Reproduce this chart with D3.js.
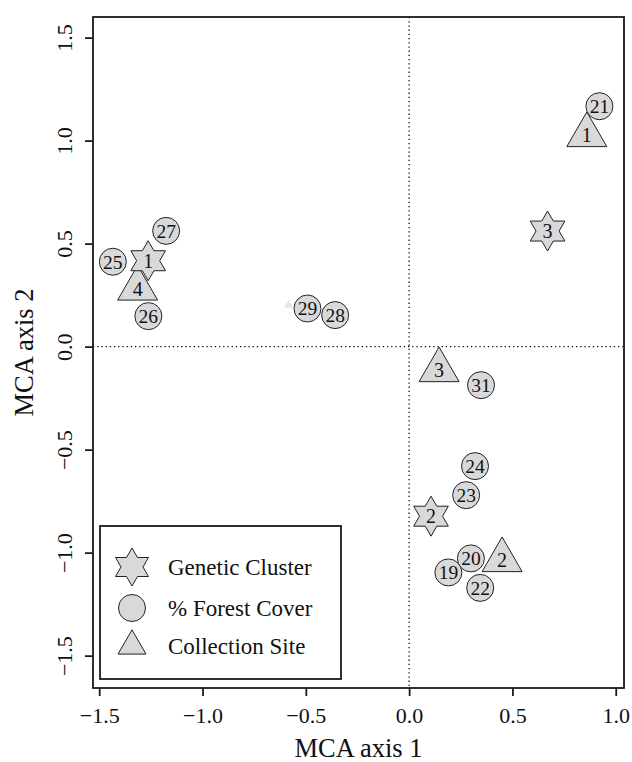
<!DOCTYPE html>
<html>
<head>
<meta charset="utf-8">
<script src="https://cdn.jsdelivr.net/npm/d3@7"></script>
<style>
  body { margin: 0; background: #fff; }
  text { font-family: "Liberation Serif", "Times New Roman", serif; fill: #111; }
</style>
</head>
<body>
<svg id="mysvg" width="632" height="762"></svg>
<script>
// Genetic cluster (stars)
const clusterLabels = ["1", "2", "3"];
const clusterX = [-1.263, 0.106, 0.670];
const clusterY = [0.417, -0.823, 0.561];

// % forest cover (circles)
const forestLabels = ["19", "20", "21", "22", "23", "24", "25", "26", "27", "28", "29", "31"];
const forestX = [0.190, 0.299, 0.921, 0.344, 0.276, 0.319, -1.434, -1.262, -1.176, -0.358, -0.492, 0.348];
const forestY = [-1.096, -1.028, 1.167, -1.171, -0.721, -0.580, 0.412, 0.148, 0.562, 0.153, 0.185, -0.187];

// Collection site (triangles)
const siteLabels = ["1", "2", "3", "4"];
const siteX = [0.860, 0.450, 0.145, -1.314];
const siteY = [1.027, -1.036, -0.114, 0.282];

// faint unlabeled mark near 29
const faintX = [-0.584];
const faintY = [0.201];

const xTicks = [-1.5, -1.0, -0.5, 0.0, 0.5, 1.0];
const yTicks = [-1.5, -1.0, -0.5, 0.0, 0.5, 1.0, 1.5];
const legendLabels = ["Genetic Cluster", "% Forest Cover", "Collection Site"];

const fillGray = "#d9d9d9";
const strokeCol = "#222";

const svg = d3.select("#mysvg");

// Scales (plot region 93..624 x 17..688)
const x = d3.scaleLinear().domain([-1.53, 1.04]).range([93, 624]);
const y = d3.scaleLinear().domain([-1.657, 1.60]).range([688, 17]);

// symbol generators
const hexagram = (R) => {
  const pts = d3.range(12).map((i) => [i * Math.PI / 6, i % 2 === 0 ? R : R / Math.sqrt(3)]);
  return d3.lineRadial().curve(d3.curveLinearClosed)(pts);
};
const triangle = (side) => d3.symbol().type(d3.symbolTriangle).size(Math.sqrt(3) / 4 * side * side)();

// Dotted reference lines
svg.append("line")
  .attr("x1", x(0)).attr("x2", x(0))
  .attr("y1", y.range()[1]).attr("y2", y.range()[0])
  .attr("stroke", "#111").attr("stroke-width", 1.3)
  .attr("stroke-dasharray", "1.3,2.9");
svg.append("line")
  .attr("x1", x.range()[0]).attr("x2", x.range()[1])
  .attr("y1", y(0)).attr("y2", y(0))
  .attr("stroke", "#111").attr("stroke-width", 1.3)
  .attr("stroke-dasharray", "1.3,2.9");

// faint mark
svg.selectAll(".faint")
  .data(faintX.map((d, i) => ({ x: d, y: faintY[i] })))
  .join("path")
  .attr("class", "faint")
  .attr("transform", (d) => `translate(${x(d.x)},${y(d.y)})`)
  .attr("d", triangle(9))
  .attr("fill", "#e4e4e4");

// Collection site triangles
const sites = svg.selectAll(".site")
  .data(siteLabels.map((l, i) => ({ label: l, x: siteX[i], y: siteY[i] })))
  .join("g")
  .attr("class", "site")
  .attr("transform", (d) => `translate(${x(d.x)},${y(d.y)})`);
sites.append("path")
  .attr("d", triangle(40))
  .attr("fill", fillGray).attr("stroke", strokeCol).attr("stroke-width", 1);
sites.append("text")
  .attr("text-anchor", "middle").attr("dy", "0.35em")
  .style("font-size", "20px")
  .text((d) => d.label);

// Forest cover circles
const forest = svg.selectAll(".forest")
  .data(forestLabels.map((l, i) => ({ label: l, x: forestX[i], y: forestY[i] })))
  .join("g")
  .attr("class", "forest")
  .attr("transform", (d) => `translate(${x(d.x)},${y(d.y)})`);
forest.append("circle")
  .attr("r", 13.5)
  .attr("fill", fillGray).attr("stroke", strokeCol).attr("stroke-width", 1);
forest.append("text")
  .attr("text-anchor", "middle").attr("dy", "0.35em")
  .style("font-size", "19.5px")
  .text((d) => d.label);

// Genetic cluster stars
const clusters = svg.selectAll(".cluster")
  .data(clusterLabels.map((l, i) => ({ label: l, x: clusterX[i], y: clusterY[i] })))
  .join("g")
  .attr("class", "cluster")
  .attr("transform", (d) => `translate(${x(d.x)},${y(d.y)})`);
clusters.append("path")
  .attr("d", hexagram(20))
  .attr("fill", fillGray).attr("stroke", strokeCol).attr("stroke-width", 1);
clusters.append("text")
  .attr("text-anchor", "middle").attr("dy", "0.35em")
  .style("font-size", "20px")
  .text((d) => d.label);

// Frame
svg.append("rect")
  .attr("x", x.range()[0]).attr("y", y.range()[1])
  .attr("width", x.range()[1] - x.range()[0])
  .attr("height", y.range()[0] - y.range()[1])
  .attr("fill", "none").attr("stroke", "#1a1a1a").attr("stroke-width", 1.8);

// X axis
const xAxis = svg.append("g")
  .attr("transform", `translate(0,${y.range()[0]})`)
  .call(d3.axisBottom(x).tickValues(xTicks).tickSize(8).tickPadding(11.5).tickFormat(d3.format(".1f")));
xAxis.select(".domain").remove();
xAxis.selectAll("line").attr("stroke", "#1a1a1a").attr("stroke-width", 1.8);
xAxis.selectAll("text")
  .attr("fill", "#111")
  .style("font-size", "22px")
  .style("font-family", "Liberation Serif, serif");

// Y axis
const yAxis = svg.append("g")
  .attr("transform", `translate(${x.range()[0]},0)`)
  .call(d3.axisLeft(y).tickValues(yTicks).tickSize(8).tickFormat(d3.format(".1f")));
yAxis.select(".domain").remove();
yAxis.selectAll("line").attr("stroke", "#1a1a1a").attr("stroke-width", 1.8);
yAxis.selectAll("text")
  .attr("transform", "rotate(-90)")
  .attr("x", 0).attr("y", -21).attr("dy", 0)
  .attr("fill", "#111")
  .style("text-anchor", "middle")
  .style("font-size", "22px")
  .style("font-family", "Liberation Serif, serif");

// Axis titles
svg.append("text")
  .attr("x", (x.range()[0] + x.range()[1]) / 2)
  .attr("y", 757)
  .attr("text-anchor", "middle")
  .style("font-size", "26.5px")
  .text("MCA axis 1");
svg.append("text")
  .attr("transform", `translate(33,${(y.range()[0] + y.range()[1]) / 2}) rotate(-90)`)
  .attr("text-anchor", "middle")
  .style("font-size", "26.5px")
  .text("MCA axis 2");

// Legend
const legend = svg.append("g").attr("transform", "translate(100,526)");
legend.append("rect")
  .attr("width", 241).attr("height", 153)
  .attr("fill", "#fff").attr("stroke", "#1a1a1a").attr("stroke-width", 1.8);
const rows = [41, 82, 120];
const items = legend.selectAll(".item")
  .data(legendLabels)
  .join("g")
  .attr("class", "item")
  .attr("transform", (d, i) => `translate(0,${rows[i]})`);
items.append("path")
  .attr("transform", "translate(32,0)")
  .attr("d", (d, i) => i === 0 ? hexagram(19) : i === 1 ? d3.symbol().type(d3.symbolCircle).size(Math.PI * 13.5 * 13.5)() : triangle(28))
  .attr("fill", fillGray).attr("stroke", strokeCol).attr("stroke-width", 1);
items.append("text")
  .attr("x", 68).attr("dy", "0.35em")
  .style("font-size", "23px")
  .text((d) => d);
</script>
</body>
</html>
